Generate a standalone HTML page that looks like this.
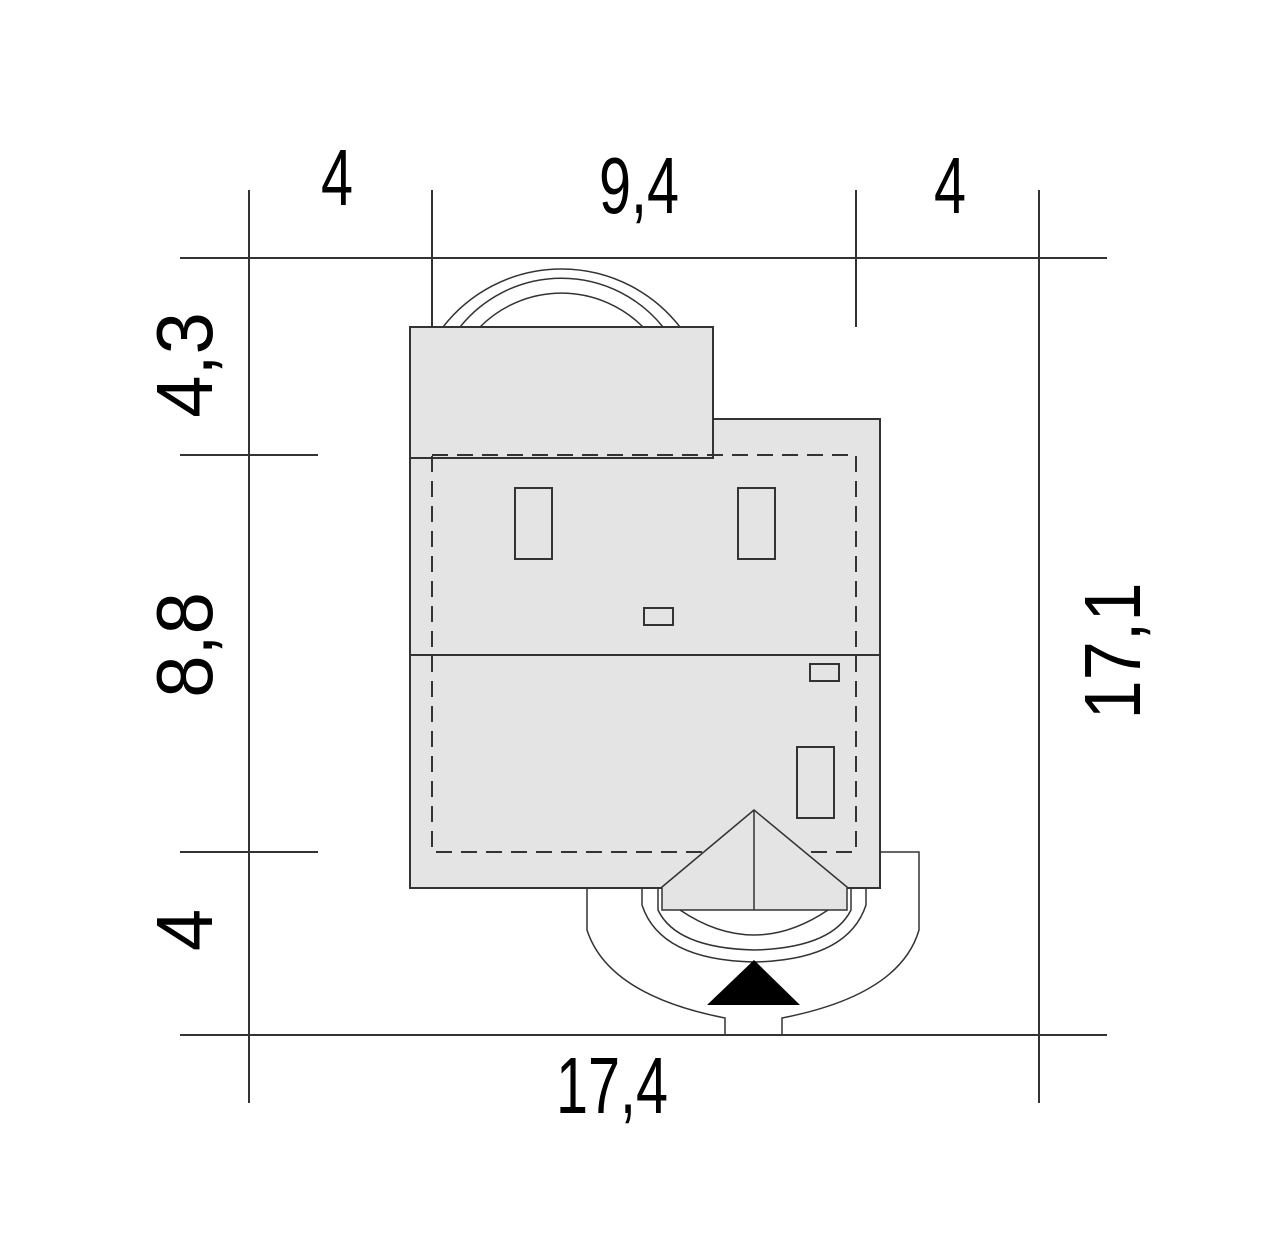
<!DOCTYPE html>
<html><head><meta charset="utf-8"><style>html,body{margin:0;padding:0;background:#fff}svg{display:block}</style></head>
<body>
<svg width="1280" height="1242" viewBox="0 0 1280 1242" xmlns="http://www.w3.org/2000/svg">
<g stroke="#333" stroke-width="2" fill="none">
<line x1="180" y1="258" x2="1107" y2="258"/>
<line x1="180" y1="1035" x2="1107" y2="1035"/>
<line x1="249" y1="190" x2="249" y2="1103"/>
<line x1="1039" y1="190" x2="1039" y2="1103"/>
<line x1="432" y1="190" x2="432" y2="327"/>
<line x1="856" y1="190" x2="856" y2="327"/>
<line x1="180" y1="455" x2="318" y2="455"/>
<line x1="180" y1="852" x2="318" y2="852"/>
<path d="M443 327 A150 150 0 0 1 680 327" stroke-width="1.5"/>
<path d="M460 327 A130 130 0 0 1 663 327" stroke-width="1.5"/>
<path d="M480 327 A115 115 0 0 1 643 327" stroke-width="1.5"/>
<rect x="410" y="419" width="470" height="469" fill="#e4e4e4"/>
<rect x="410" y="327" width="303" height="131" fill="#e4e4e4"/>
<line x1="410" y1="655" x2="880" y2="655"/>
<rect x="432" y="455" width="424" height="397" stroke-dasharray="16,9"/>
<rect x="515" y="488" width="37" height="71"/>
<rect x="738" y="488" width="37" height="71"/>
<rect x="644" y="608" width="29" height="17"/>
<rect x="810" y="664" width="29" height="17"/>
<rect x="797" y="747" width="37" height="71"/>
<path d="M880 852 H919 V930 Q900 995 782 1018 V1035" stroke-width="1.5"/>
<path d="M587 888 V930 Q608 995 725 1018 V1035" stroke-width="1.5"/>
<path d="M642 888 V905 Q660 960 754 962 Q848 960 866 905 V888" stroke-width="1.5"/>
<path d="M658 888 V910 Q676 948 754 950 Q832 948 851 910 V888" stroke-width="1.5"/>
<path d="M662 887 L754 810 L847 887 V910 H662 Z" fill="#e4e4e4" stroke-width="1.5"/>
<path d="M680 910 Q754 960 828 910" stroke-width="1.5"/>
<line x1="754" y1="810" x2="754" y2="910" stroke-width="1.5"/>
</g>
<polygon points="707,1005 800,1005 754,960" fill="#000"/>
<g font-family="Liberation Sans, sans-serif" font-size="80" fill="#000" text-anchor="middle">
<text transform="translate(337,205) scale(0.72,1)">4</text>
<text transform="translate(639,213) scale(0.72,1)">9,4</text>
<text transform="translate(950,213) scale(0.72,1)">4</text>
<text transform="translate(612,1113) scale(0.72,1)">17,4</text>
<text transform="translate(212,365) rotate(-90) scale(0.95,1)">4,3</text>
<text transform="translate(212,645) rotate(-90) scale(0.95,1)">8,8</text>
<text transform="translate(212,930) rotate(-90) scale(0.95,1)">4</text>
<text transform="translate(1140,651) rotate(-90) scale(0.88,1)">17,1</text>
</g>
</svg>
</body></html>
